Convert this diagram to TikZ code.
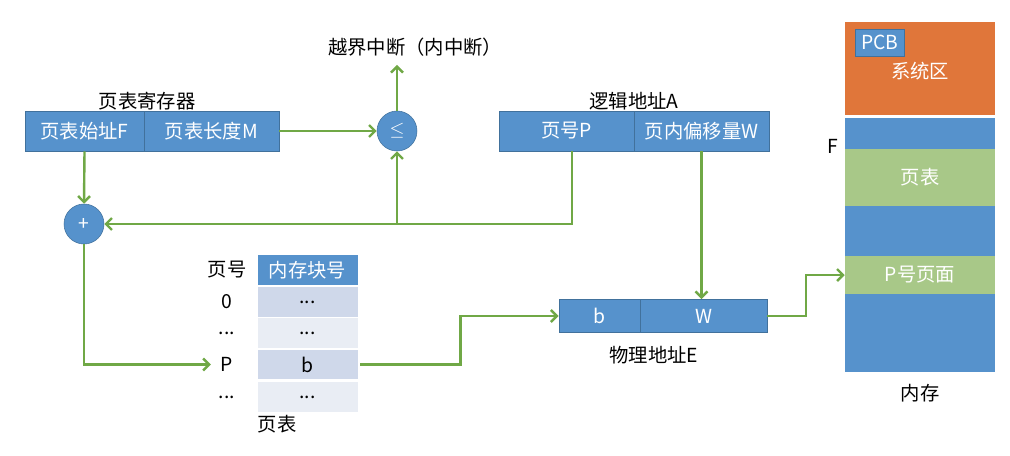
\documentclass[tikz,border=0pt]{standalone}
\usepackage{fontspec}
\setmainfont{Noto Sans CJK SC}
\usetikzlibrary{arrows.meta,positioning}
\definecolor{cellblue}{RGB}{86,146,204}
\definecolor{lineblue}{RGB}{65,113,156}
\definecolor{sysorange}{RGB}{224,118,58}
\definecolor{pagegreen}{RGB}{168,200,136}
\definecolor{arrowgreen}{RGB}{112,168,70}
\definecolor{rowdark}{RGB}{207,216,234}
\definecolor{rowlight}{RGB}{233,237,244}

\begin{document}
\begin{tikzpicture}[x=0.75pt, y=-0.75pt,
  font=\fontsize{14.5}{16}\selectfont,
  cell/.style={draw=lineblue, fill=cellblue, text=white, minimum height=30, inner sep=0pt},
  op/.style={circle, draw=lineblue, fill=cellblue, text=white, minimum size=30, inner sep=0pt},
  row/.style={minimum width=75, minimum height=22, inner sep=0pt},
  flow/.style={draw=arrowgreen, line width=1.8pt, -{Straight Barb[length=4.5pt,width=9pt]}}]
  \useasboundingbox (0,0) rectangle (1010,455);

  % page table register
  \node[cell, minimum width=89] (regF) at (84.5,131) {页表始址F};
  \node[cell, minimum width=101] (regM) at (211.5,131) {页表长度M};
  \node (regLabel) at (147,101) {页表寄存器};

  \node[op] (cmp) at (397,131) {$\leq$};
  \node (intr) at (415,47) {越界中断（内中断）};
  \node[op] (add) at (84,224) {+};

  % logical address
  \node[cell, minimum width=101] (laP) at (566.5,131) {页号P};
  \node[cell, minimum width=101] (laW) at (701.5,131) {页内偏移量W};
  \node (laLabel) at (634,101) {逻辑地址A};

  % physical address
  \node[cell, minimum width=61, minimum height=25] (paB) at (599.5,316) {b};
  \node[cell, minimum width=95, minimum height=25] (paW) at (703.5,316) {W};
  \node (paLabel) at (654,355) {物理地址E};

  % page table
  \node[row, fill=cellblue, text=white] (ptHead) at (307.5,270) {内存块号};
  \node[row, fill=rowdark] (pt0) at (307.5,302) {...};
  \node[row, fill=rowlight] (pt1) at (307.5,333) {...};
  \node[row, fill=rowdark] (ptP) at (307.5,364.5) {b};
  \node[row, fill=rowlight] (pt3) at (307.5,397) {...};
  \node (noHead) at (227,270) {页号};
  \node (no0) at (227,302) {0};
  \node (no1) at (227,333) {...};
  \node (noP) at (227,364.5) {P};
  \node (no3) at (227,397) {...};
  \node (ptLabel) at (277,424) {页表};

  % memory
  \fill[sysorange] (845,22) rectangle (995,115);
  \fill[cellblue] (845,118) rectangle (995,372);
  \node[draw=lineblue, fill=cellblue, text=white, minimum width=37, minimum height=20, inner sep=0pt] (pcb) at (880,42.5) {PCB};
  \node[text=white] (sys) at (920,71) {系统区};
  \node[fill=pagegreen, text=white, minimum width=112.5, minimum height=42.75, inner sep=0pt] (memPT) at (920,177.5) {页表};
  \node[fill=pagegreen, text=white, minimum width=112.5, minimum height=28.5, inner sep=0pt] (memPage) at (920,275) {P号页面};
  \node (memF) at (833,146) {F};
  \node (memLabel) at (920,393) {内存};

  % connectors
  \draw[flow] (regM.east) -- (cmp.west);
  \draw[flow] (cmp.north) -- ([yshift=-3]intr.south -| cmp.north);
  \draw[flow] (regF.south) -- (add.north);
  \draw[flow] ([xshift=4]laP.south) |- (add.east);
  \draw[flow] (cmp |- add) -- (cmp.south);
  \draw[flow] (laW.south) -- (laW.south |- paW.north);
  \draw[flow] (add.south) |- ([xshift=-4]noP.west);
  \draw[flow] ([xshift=2]ptP.east) -- ++(100,0) |- (paB.west);
  \draw[flow] (paW.east) -- ++(39,0) |- (memPage.west);
\end{tikzpicture}
\end{document}
